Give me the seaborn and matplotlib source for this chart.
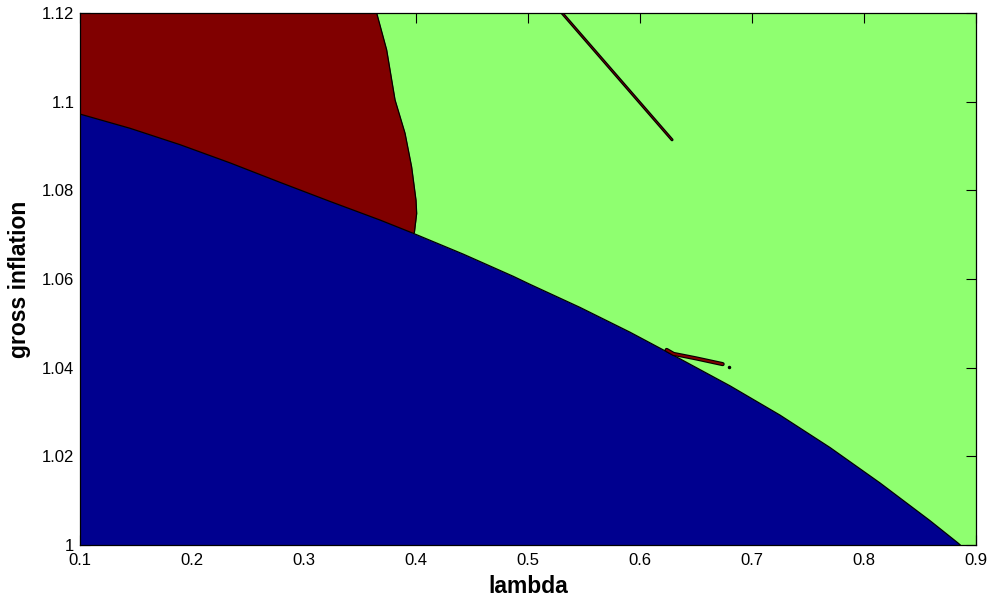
import numpy as np
import matplotlib
matplotlib.use("Agg")
import matplotlib.pyplot as plt
import matplotlib.ticker as mticker
import seaborn as sns

# boundary between the blue (low) region and the rest
lam_curve = [0.100, 0.1446, 0.1893, 0.2339, 0.2786, 0.3232, 0.3679, 0.3976, 0.4423, 0.4869,
             0.5018, 0.5464, 0.5911, 0.6357, 0.6804, 0.7250, 0.7696, 0.8143, 0.8589, 0.8842, 0.886]
infl_curve = [1.0972, 1.0940, 1.0903, 1.0862, 1.0818, 1.0775, 1.0733, 1.0703, 1.0656, 1.0606,
              1.0588, 1.0536, 1.0480, 1.0420, 1.0359, 1.0293, 1.0220, 1.0140, 1.0055, 1.0004, 1.0000]

# right edge of the red region (lambda as a function of inflation)
infl_red = [1.0704, 1.0748, 1.0778, 1.0853, 1.0929, 1.1004, 1.1117, 1.1200]
lam_red = [0.3985, 0.4006, 0.4000, 0.3961, 0.3902, 0.3813, 0.3738, 0.3649]

# thin red strips
lam_strip1 = [0.5304, 0.6286]
infl_strip1 = [1.1200, 1.0914]
lam_strip2 = [0.6238, 0.6300, 0.6500, 0.6738]
infl_strip2 = [1.0440, 1.0431, 1.0421, 1.0408]
lam_dot = [0.6798]
infl_dot = [1.0401]

xticks = [0.1, 0.2, 0.3, 0.4, 0.5, 0.6, 0.7, 0.8, 0.9]
yticks = [1.0, 1.02, 1.04, 1.06, 1.08, 1.1, 1.12]

blue = '#00008F'
red = '#800000'
green = '#8FFF70'

sns.set_style("ticks")
plt.rcParams['font.family'] = ['Liberation Sans', 'DejaVu Sans']

fig = plt.figure(figsize=(9.94, 6), dpi=100)
ax = fig.add_axes([80/994, 55/600, 896/994, 532/600])
ax.set_facecolor(green)

# red region: left edge to its right boundary (blue covers the part below the curve)
ax.fill_betweenx(infl_red, 0.1, lam_red, color=red, lw=0)
# blue region below the curve
ax.fill_between(lam_curve, 1.0, infl_curve, color=blue, lw=0)

sns.lineplot(x=lam_curve, y=infl_curve, sort=False, estimator=None, color='black', lw=0.9, ax=ax)
sns.lineplot(x=lam_red, y=infl_red, sort=False, estimator=None, color='black', lw=0.9, ax=ax)

sns.lineplot(x=lam_strip1, y=infl_strip1, sort=False, estimator=None, color='black', lw=2.2, ax=ax)
sns.lineplot(x=lam_strip1, y=infl_strip1, sort=False, estimator=None, color=red, lw=0.5, ax=ax)
sns.lineplot(x=lam_strip2, y=infl_strip2, sort=False, estimator=None, color='black', lw=3.0, ax=ax)
sns.lineplot(x=lam_strip2, y=infl_strip2, sort=False, estimator=None, color=red, lw=1.4, ax=ax)
ax.plot(lam_dot, infl_dot, 'o', color='black', ms=1.5)

ax.set_xlim(0.1, 0.9)
ax.set_ylim(1.0, 1.12)
ax.set_xticks(xticks)
ax.set_yticks(yticks)
fmt = mticker.FuncFormatter(lambda v, p: '%g' % round(v, 4))
ax.xaxis.set_major_formatter(fmt)
ax.yaxis.set_major_formatter(fmt)
ax.tick_params(direction='in', length=7, width=0.8, top=True, right=True,
               labelsize=12, colors='black')
ax.tick_params(axis='x', pad=6)
ax.tick_params(axis='y', pad=4)
for s in ax.spines.values():
    s.set_visible(True)
    s.set_color('black')
    s.set_linewidth(0.9)

ax.set_xlabel('lambda', fontsize=16.5, fontweight='bold', labelpad=5, color='black')
ax.set_ylabel('gross inflation', fontsize=16.5, fontweight='bold', labelpad=8, color='black')

fig.savefig('out.png', dpi=100)
